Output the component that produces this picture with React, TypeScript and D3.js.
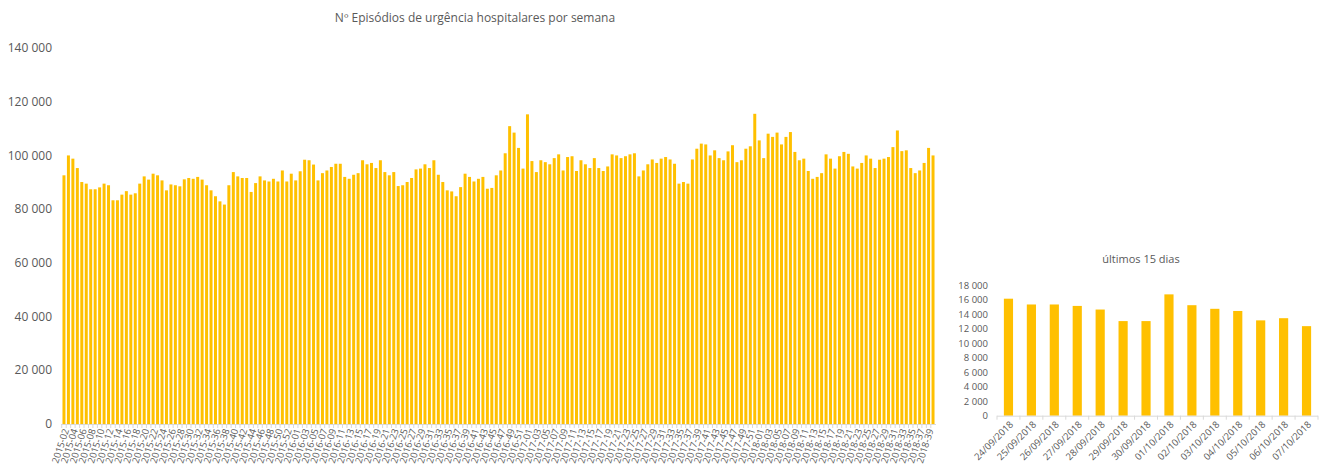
import React, { useMemo } from 'react';
import * as d3 from 'd3';

// weekly counts, one array per year (2015 starts at week 02, 2018 ends at week 40)
const weeks2015 = [
  92600, 100000, 98800, 95300, 90100, 89500, 87400, 87400, 88100, 89500,
  88900, 83300, 83300, 85400, 86700, 85400, 85900, 89500, 92200, 91000,
  93200, 92600, 90700, 87000, 89200, 88900, 88500, 91100, 91600, 91300,
  92000, 91000, 88900, 87000, 84800, 82900, 81700, 88900, 93800, 92200,
  91600, 91600, 86400, 89700, 92200, 90700, 90300, 91300, 90300, 94400,
  90300, 93200,
];
const weeks2016 = [
  90700, 94100, 98400, 98200, 96600, 90700, 93400, 94400, 95700, 96900,
  96900, 92000, 91300, 92800, 93400, 98200, 96700, 97200, 95300, 98200,
  93800, 92600, 93800, 88600, 88900, 90100, 91600, 94800, 95100, 96700,
  95300, 98200, 92800, 90100, 87000, 86600, 84800, 88200, 93200, 92000,
  90300, 91300, 92000, 87600, 87900, 92600, 94400, 100800, 110900, 108500,
  102800, 95100,
];
const weeks2017 = [
  115300, 97900, 93800, 98200, 97500, 96700, 99000, 100400, 94400, 99400,
  99700, 94200, 98200, 96700, 95300, 99000, 95300, 94200, 95900, 100400,
  100000, 99000, 99700, 100400, 100800, 92200, 94400, 96700, 98500, 97200,
  98800, 99400, 98500, 96900, 89500, 90100, 89500, 98500, 102500, 104400,
  104100, 100000, 101900, 99000, 98200, 101500, 103800, 97500, 98200, 102500,
  103400, 115500,
];
const weeks2018 = [
  105600, 99000, 108100, 106900, 108500, 104100, 106900, 108700, 101300, 98200,
  98800, 94200, 91300, 92000, 93400, 100400, 98800, 95100, 99700, 101300,
  100600, 95900, 95100, 97200, 100000, 98800, 95300, 98400, 98800, 99400,
  103100, 109300, 101600, 101900, 95300, 93400, 94400, 97200, 102800, 100000,
];

const years = [2015, 2016, 2017, 2018];
const firstWeek = [2, 1, 1, 1];

const days = [
  '24/09/2018', '25/09/2018', '26/09/2018', '27/09/2018', '28/09/2018', '29/09/2018', '30/09/2018',
  '01/10/2018', '02/10/2018', '03/10/2018', '04/10/2018', '05/10/2018', '06/10/2018', '07/10/2018',
];
const dayValues = [16200, 15400, 15400, 15200, 14700, 13100, 13100, 16800, 15300, 14800, 14500, 13200, 13500, 12400];

const mainTicks = [0, 20000, 40000, 60000, 80000, 100000, 120000, 140000];
const smallTicks = [0, 2000, 4000, 6000, 8000, 10000, 12000, 14000, 16000, 18000];

const GOLD = '#FFC000';
const TEXT = '#595959';
const AXIS = '#D9D9D9';
const FONT = '"Open Sans", sans-serif';

const fmt = (v) => d3.format(',')(v).replace(/,/g, ' ');

export default function App() {
  const weekly = useMemo(() => {
    const series = [weeks2015, weeks2016, weeks2017, weeks2018];
    const out = [];
    series.forEach((arr, yi) => {
      arr.forEach((v, i) => {
        const w = firstWeek[yi] + i;
        out.push({ label: `${years[yi]}-${String(w).padStart(2, '0')}`, value: v });
      });
    });
    return out;
  }, []);

  const x = d3.scaleBand().domain(weekly.map(d => d.label)).range([61, 936]).padding(0.33);
  const y = d3.scaleLinear().domain([0, 140000]).range([424, 48]);

  const x2 = d3.scaleBand().domain(days).range([997, 1318]).paddingInner(0.6).paddingOuter(0.3);
  const y2 = d3.scaleLinear().domain([0, 18000]).range([415.7, 285.7]);

  const step = x.step();
  const step2 = x2.step();

  return (
    <svg width={1323} height={470} style={{ position: 'absolute', left: 0, top: 0, background: '#fff' }} fontFamily={FONT}>
      {/* weekly chart */}
      <text x={475} y={22} textAnchor="middle" fontSize={12} fill={TEXT}>
        Nº Episódios de urgência hospitalares por semana
      </text>
      {mainTicks.map(t => (
        <text key={t} x={52} y={y(t)} dy="0.35em" textAnchor="end" fontSize={12} fill={TEXT}>{fmt(t)}</text>
      ))}
      {weekly.map(d => (
        <rect key={d.label} x={x(d.label)} y={y(d.value)} width={x.bandwidth()} height={y(0) - y(d.value)} fill={GOLD} />
      ))}
      <line x1={61} x2={936} y1={y(0) + 0.5} y2={y(0) + 0.5} stroke={AXIS} strokeWidth={1} />
      {weekly.map((d, i) => {
        const bx = x(d.label) - (step * 0.33) / 2;
        return <line key={'t' + i} x1={bx} x2={bx} y1={y(0)} y2={y(0) + 4} stroke={AXIS} strokeWidth={1} />;
      })}
      {weekly.map((d, i) => {
        if (i % 2 !== 0) return null;
        const cx = x(d.label) + x.bandwidth() / 2;
        return (
          <text key={'l' + i} transform={`translate(${cx + 2},${y(0) + 5}) rotate(-72)`} textAnchor="end" dy="0.35em" fontSize={9.5} fill={TEXT}>
            {d.label}
          </text>
        );
      })}

      {/* last days chart */}
      <text x={1141} y={263} textAnchor="middle" fontSize={11} fill={TEXT}>últimos 15 dias</text>
      {smallTicks.map(t => (
        <text key={t} x={988} y={y2(t)} dy="0.35em" textAnchor="end" fontSize={9.5} fill={TEXT}>{fmt(t)}</text>
      ))}
      {days.map((d, i) => (
        <rect key={d} x={x2(d)} y={y2(dayValues[i])} width={x2.bandwidth()} height={y2(0) - y2(dayValues[i])} fill={GOLD} />
      ))}
      <line x1={997} x2={1318} y1={y2(0) + 0.5} y2={y2(0) + 0.5} stroke={AXIS} strokeWidth={1} />
      {days.map((d, i) => {
        const bx = 997 + i * step2;
        return <line key={'t' + d} x1={bx} x2={bx} y1={y2(0)} y2={y2(0) + 4} stroke={AXIS} strokeWidth={1} />;
      }).concat([<line key="tend" x1={1318} x2={1318} y1={y2(0)} y2={y2(0) + 4} stroke={AXIS} strokeWidth={1} />])}
      {days.map(d => {
        const cx = x2(d) + x2.bandwidth() / 2;
        return (
          <text key={'l' + d} transform={`translate(${cx + 3},${y2(0) + 7}) rotate(-45)`} textAnchor="end" dy="0.35em" fontSize={9.5} fill={TEXT}>
            {d}
          </text>
        );
      })}
    </svg>
  );
}
